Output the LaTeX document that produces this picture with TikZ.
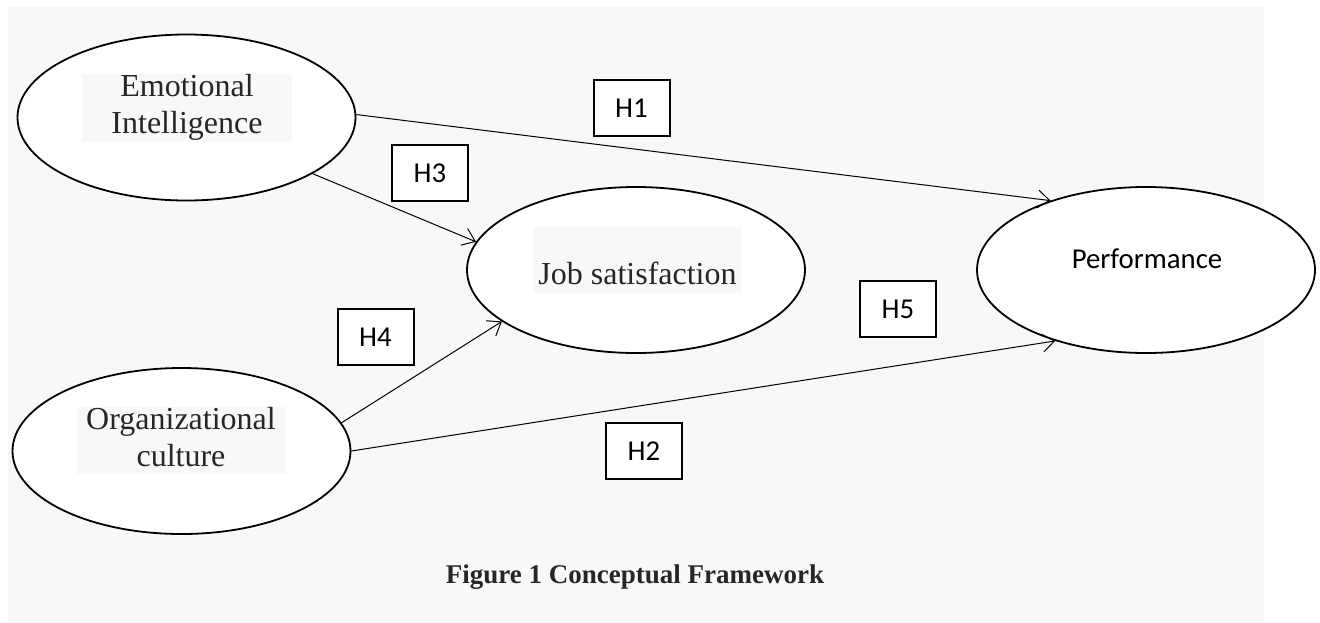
\documentclass[tikz,border=0pt]{standalone}
\usepackage{fontspec}
\setmainfont{Liberation Serif}
\newfontfamily\calibrifont{Carlito}
\usetikzlibrary{arrows.meta,shapes.geometric}
\definecolor{pagebg}{HTML}{F7F8FA}
\definecolor{inkgray}{HTML}{262626}
\newcommand{\lstrut}{\rule[-4pt]{0pt}{14.5pt}}

\begin{document}
\begin{tikzpicture}[
    x=0.5pt, y=-0.5pt,                      % pixel-like units, y going down
    construct/.style={                      % ellipses for the constructs
        ellipse,                            % ellipse shape
        draw=black, fill=white,             % black border, white inside
        line width=0.9pt,                   % border line width
        minimum width=169pt,                % width of the ellipse
        minimum height=83pt,                % height of the ellipse
        inner sep=0pt
    },
    namebox/.style={                        % shaded boxes holding the names
        fill=pagebg, text=inkgray,
        font=\fontsize{16}{18.5}\selectfont,
        align=center, inner sep=0pt,
        minimum width=104.5pt
    },
    hyp/.style={                            % hypothesis labels
        rectangle, draw=black, fill=white,
        line width=1pt,
        minimum width=38pt, minimum height=28pt,
        font=\calibrifont\fontsize{14.4}{17}\selectfont
    },
    link/.style={                           % arrows between constructs
        -{Straight Barb[length=6pt,width=9pt]},
        line width=0.5pt
    }
]

% Page area and shaded background
\useasboundingbox (0,0) rectangle (1320,622);
\fill[pagebg] (8,7) rectangle (1264,622);

% Constructs
\node[construct] (ei) at (186.5,117.5) {};
\node[namebox] (einame) at (187,108) {\lstrut Emotional\\\lstrut Intelligence};

\node[construct] (oc) at (181.5,451) {};
\node[namebox] (ocname) at (181,440.5) {\lstrut Organizational\\\lstrut culture};

\node[construct] (js) at (636,270) {};
\node[namebox] (jsname) at (637.5,259.5) {\lstrut\\\lstrut Job satisfaction};

\node[construct] (perf) at (1146,270) {};
\node[font=\calibrifont\fontsize{14.4}{17}\selectfont] (perfname) at (1147,258.5) {Performance};

% Paths
\draw[link] (ei.1.5) -- (perf.144);
\draw[link] (ei.-24.4) -- (js.170.1);
\draw[link] (oc.10.4) -- (js.201.5);
\draw[link] (oc.-0.7) -- (perf.218.4);

% Hypotheses
\node[hyp] (h1) at (631.5,108) {H1};
\node[hyp] (h3) at (430,173) {H3};
\node[hyp] (h5) at (898,309) {H5};
\node[hyp] (h4) at (375.5,337) {H4};
\node[hyp] (h2) at (644,451) {H2};

% Caption
\node[font=\bfseries\fontsize{13.5}{16}\selectfont, text=inkgray] (caption) at (635,577) {Figure 1 Conceptual Framework};

\end{tikzpicture}
\end{document}
